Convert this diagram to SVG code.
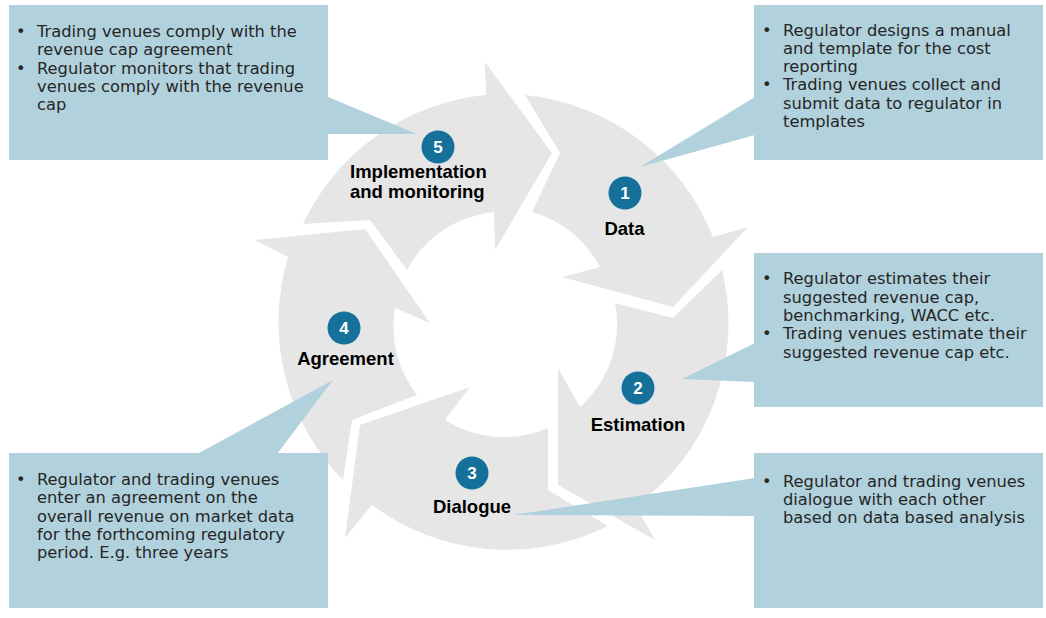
<svg xmlns="http://www.w3.org/2000/svg" width="1046" height="618" viewBox="0 0 1046 618">
<style>
.arrow{fill:#e6e6e6;stroke:none}
.box{fill:#b1d1dc;stroke:none}
.badge{fill:#15719a}
.num{font-family:"Liberation Sans",Arial,sans-serif;font-weight:bold;font-size:17px;fill:#ffffff;text-anchor:middle}
.lbl{font-family:"Liberation Sans",Arial,sans-serif;font-weight:bold;font-size:18.5px;fill:#000000}
.txt{font-family:"DejaVu Sans","Liberation Sans",sans-serif;font-size:16.3px;fill:#262626}
</style>
<rect width="1046" height="618" fill="#ffffff"/>
<g id="cycle">
<path id="arrow1" class="arrow" d="M525,95 L560,153 L532,212 A111,111 0 0 1 600,267 L562,277 L673,307 L748,227 L713,237 A226,226 0 0 0 525,95 Z"/>
<path id="arrow2" class="arrow" d="M722,270 L673,318 L615,303 A111,111 0 0 1 580,407 L558,368 L558,485 L655,540 L636,506 A226,226 0 0 0 722,270 Z"/>
<path id="arrow3" class="arrow" d="M608,526 L548,490 L548,428 A111,111 0 0 1 445,420 L470,387 L360,425 L345,538 L372,505 A226,226 0 0 0 608,526 Z"/>
<path id="arrow4" class="arrow" d="M343,480 L352,420 L417,395 A111,111 0 0 1 395,308 L430,323 L365,229 L255,240 L288,257 A226,226 0 0 0 343,480 Z"/>
<path id="arrow5" class="arrow" d="M303,224 L370,220 L407,270 A111,111 0 0 1 494,212 L495,250 L552,153 L485,62 L486,95 A226,226 0 0 0 303,224 Z"/>
</g>
<g id="connectors">
<path class="box" d="M328,97 L417,134 L328,134 Z"/>
<path class="box" d="M755,97 L640,167 L755,135 Z"/>
<path class="box" d="M755,343 L682,379 L755,382 Z"/>
<path class="box" d="M755,478 L513,515 L755,516 Z"/>
<path class="box" d="M197,454 L333,380 L277,454 Z"/>
</g>
<g id="step5">
<circle class="badge" cx="438" cy="147" r="16.5"/>
<text class="num" x="438" y="153">5</text>
<text class="lbl" x="350" y="178">Implementation</text>
<text class="lbl" x="350" y="198">and monitoring</text>
</g>
<g id="step1">
<circle class="badge" cx="625" cy="193" r="16.5"/>
<text class="num" x="625" y="199">1</text>
<text class="lbl" x="624.5" y="235" text-anchor="middle">Data</text>
</g>
<g id="step2">
<circle class="badge" cx="638" cy="388" r="16.5"/>
<text class="num" x="638" y="394">2</text>
<text class="lbl" x="638" y="431" text-anchor="middle">Estimation</text>
</g>
<g id="step3">
<circle class="badge" cx="472" cy="473" r="16.5"/>
<text class="num" x="472" y="479">3</text>
<text class="lbl" x="472" y="513" text-anchor="middle">Dialogue</text>
</g>
<g id="step4">
<circle class="badge" cx="344" cy="328" r="16.5"/>
<text class="num" x="344" y="334">4</text>
<text class="lbl" x="345.5" y="365" text-anchor="middle">Agreement</text>
</g>
<g id="note5">
<rect class="box" x="9" y="5" width="319" height="155"/>
<text class="txt"><tspan x="16" y="37">•</tspan><tspan x="37" y="37">Trading venues comply with the</tspan><tspan x="37" y="55.3">revenue cap agreement</tspan><tspan x="16" y="73.6">•</tspan><tspan x="37" y="73.6">Regulator monitors that trading</tspan><tspan x="37" y="91.9">venues comply with the revenue</tspan><tspan x="37" y="110.2">cap</tspan></text>
</g>
<g id="note1">
<rect class="box" x="754" y="5" width="289" height="155"/>
<text class="txt"><tspan x="762" y="35.5">•</tspan><tspan x="783" y="35.5">Regulator designs a manual</tspan><tspan x="783" y="53.8">and template for the cost</tspan><tspan x="783" y="72.1">reporting</tspan><tspan x="762" y="90.4">•</tspan><tspan x="783" y="90.4">Trading venues collect and</tspan><tspan x="783" y="108.7">submit data to regulator in</tspan><tspan x="783" y="127">templates</tspan></text>
</g>
<g id="note2">
<rect class="box" x="754" y="253" width="289" height="154"/>
<text class="txt"><tspan x="762" y="284.3">•</tspan><tspan x="783" y="284.3">Regulator estimates their</tspan><tspan x="783" y="302.6">suggested revenue cap,</tspan><tspan x="783" y="320.9">benchmarking, WACC etc.</tspan><tspan x="762" y="339.2">•</tspan><tspan x="783" y="339.2">Trading venues estimate their</tspan><tspan x="783" y="357.5">suggested revenue cap etc.</tspan></text>
</g>
<g id="note3">
<rect class="box" x="754" y="453" width="289" height="155"/>
<text class="txt"><tspan x="762" y="486.5">•</tspan><tspan x="783" y="486.5">Regulator and trading venues</tspan><tspan x="783" y="504.8">dialogue with each other</tspan><tspan x="783" y="523.1">based on data based analysis</tspan></text>
</g>
<g id="note4">
<rect class="box" x="9" y="453" width="319" height="155"/>
<text class="txt"><tspan x="16" y="485">•</tspan><tspan x="37" y="485">Regulator and trading venues</tspan><tspan x="37" y="503.3">enter an agreement on the</tspan><tspan x="37" y="521.6">overall revenue on market data</tspan><tspan x="37" y="539.9">for the forthcoming regulatory</tspan><tspan x="37" y="558.2">period. E.g. three years</tspan></text>
</g>
</svg>
